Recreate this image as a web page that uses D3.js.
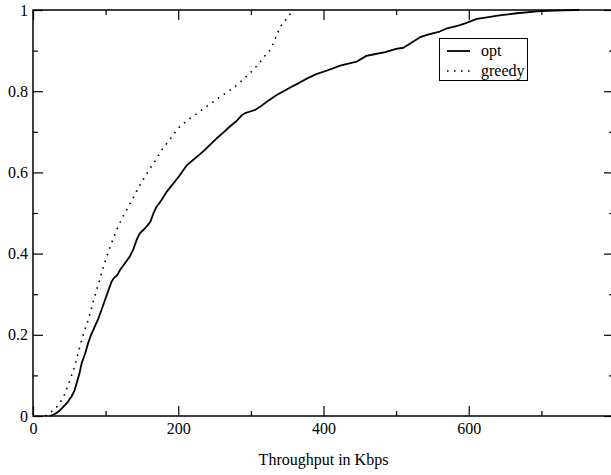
<!DOCTYPE html>
<html>
<head>
<meta charset="utf-8">
<script src="https://cdn.jsdelivr.net/npm/d3@7"></script>
<style>
  html, body { margin: 0; padding: 0; background: #fff; }
  svg { display: block; }
  text { font-family: "Liberation Serif", "Times New Roman", serif; fill: #000; }
</style>
</head>
<body>
<svg id="chart" width="611" height="475"></svg>
<script>
// ---- data ----
const seriesNames = ["opt", "greedy"];
const xTicks = [0, 200, 400, 600];
const xMinorTicks = [100, 300, 500, 700];
const yTicks = [0, 0.2, 0.4, 0.6, 0.8, 1];
const yTickLabels = ["0", "0.2", "0.4", "0.6", "0.8", "1"];
const yMinorTicks = [0.1, 0.3, 0.5, 0.7, 0.9];
const xTitle = "Throughput in Kbps";

const optThroughput = [23,30,36,42,48,53,57,60,64,67,72,76,80,85,90,94,99,104,108,111,116,120,126,133,138,143,147,153,158,162,166,170,177,184,192,200,206,212,220,230,237,245,253,262,271,280,287,292,299,306,315,325,335,345,356,366,377,390,405,423,434,446,459,470,485,500,510,520,533,545,560,570,583,595,611,625,640,666,698,730,752];
const optCdf = [0,0.005,0.012,0.023,0.035,0.048,0.062,0.08,0.105,0.13,0.155,0.18,0.2,0.22,0.24,0.26,0.285,0.31,0.33,0.339,0.347,0.36,0.375,0.392,0.41,0.435,0.45,0.46,0.47,0.48,0.5,0.515,0.532,0.552,0.57,0.588,0.603,0.618,0.63,0.645,0.656,0.67,0.684,0.698,0.713,0.726,0.74,0.746,0.75,0.754,0.765,0.778,0.79,0.8,0.811,0.82,0.831,0.842,0.851,0.863,0.868,0.873,0.887,0.891,0.896,0.904,0.907,0.918,0.933,0.94,0.947,0.955,0.96,0.967,0.978,0.982,0.986,0.992,0.997,0.999,1.0];

const greedyThroughput = [17,23,28,33,37,42,46,51,55,58,62,67,71,76,81,85,91,97,103,109,115,124,134,145,157,168,177,190,202,220,239,257,276,290,303,312,318,326,331,336,341,350,358];
const greedyCdf = [0,0.007,0.015,0.023,0.033,0.046,0.065,0.089,0.11,0.126,0.155,0.187,0.21,0.236,0.269,0.295,0.33,0.368,0.4,0.43,0.458,0.492,0.524,0.562,0.598,0.628,0.655,0.685,0.713,0.738,0.762,0.785,0.808,0.83,0.852,0.87,0.885,0.9,0.918,0.94,0.96,0.98,1.0];

// ---- layout ----
const svg = d3.select("#chart");
const mLeft = 33, mRight = 614, mTop = 10, mBottom = 416;
const x = d3.scaleLinear().domain([0, 800]).range([mLeft, mRight]);
const y = d3.scaleLinear().domain([0, 1]).range([mBottom, mTop]);

function styleAxis(g) {
  g.select(".domain").remove();
  g.selectAll(".tick line").attr("stroke", "#000").attr("stroke-width", 1.2);
  g.selectAll("text").style("font-family", "Liberation Serif, serif").style("font-size", "16px");
}

// bottom axis
svg.append("g").attr("transform", `translate(0,${mBottom})`)
  .call(d3.axisBottom(x).tickValues(xTicks).tickSizeInner(-10).tickSizeOuter(0).tickPadding(7).tickFormat(d3.format("d")))
  .call(styleAxis);
svg.append("g").attr("transform", `translate(0,${mBottom})`)
  .call(d3.axisBottom(x).tickValues(xMinorTicks).tickSizeInner(-5).tickSizeOuter(0).tickFormat(""))
  .call(styleAxis);
// top axis
svg.append("g").attr("transform", `translate(0,${mTop})`)
  .call(d3.axisTop(x).tickValues(xTicks).tickSizeInner(-10).tickSizeOuter(0).tickFormat(""))
  .call(styleAxis);
svg.append("g").attr("transform", `translate(0,${mTop})`)
  .call(d3.axisTop(x).tickValues(xMinorTicks).tickSizeInner(-5).tickSizeOuter(0).tickFormat(""))
  .call(styleAxis);
// left axis
svg.append("g").attr("transform", `translate(${mLeft},0)`)
  .call(d3.axisLeft(y).tickValues(yTicks).tickSizeInner(-10).tickSizeOuter(0).tickPadding(5).tickFormat((d, i) => yTickLabels[i]))
  .call(styleAxis);
svg.append("g").attr("transform", `translate(${mLeft},0)`)
  .call(d3.axisLeft(y).tickValues(yMinorTicks).tickSizeInner(-5).tickSizeOuter(0).tickFormat(""))
  .call(styleAxis);
// right axis
svg.append("g").attr("transform", `translate(${mRight},0)`)
  .call(d3.axisRight(y).tickValues(yTicks).tickSizeInner(-10).tickSizeOuter(0).tickFormat(""))
  .call(styleAxis);
svg.append("g").attr("transform", `translate(${mRight},0)`)
  .call(d3.axisRight(y).tickValues(yMinorTicks).tickSizeInner(-5).tickSizeOuter(0).tickFormat(""))
  .call(styleAxis);

// frame
svg.append("rect").attr("x", mLeft).attr("y", mTop)
  .attr("width", mRight - mLeft).attr("height", mBottom - mTop)
  .attr("fill", "none").attr("stroke", "#000").attr("stroke-width", 1.5);

// lines
const line = d3.line().x(d => x(d[0])).y(d => y(d[1]));
const optData = optThroughput.map((v, i) => [v, optCdf[i]]);
const greedyData = greedyThroughput.map((v, i) => [v, greedyCdf[i]]);

svg.append("path").datum(optData).attr("d", line)
  .attr("fill", "none").attr("stroke", "#000").attr("stroke-width", 1.8).attr("stroke-linejoin", "round");
svg.append("path").datum(greedyData).attr("d", line)
  .attr("fill", "none").attr("stroke", "#000").attr("stroke-width", 1.6).attr("stroke-dasharray", "1.6,5.4");

// x title
svg.append("text").attr("x", (mLeft + mRight) / 2).attr("y", 465)
  .attr("text-anchor", "middle").style("font-size", "16px").text(xTitle);

// legend
const lg = svg.append("g");
lg.append("rect").attr("x", 439.5).attr("y", 38.5).attr("width", 88).attr("height", 42)
  .attr("fill", "#fff").attr("stroke", "#000").attr("stroke-width", 1);
const styles = [{w: 1.8, dash: null}, {w: 1.6, dash: "1.6,5.4"}];
seriesNames.forEach((name, i) => {
  const yy = 51 + i * 20;
  const l = lg.append("line").attr("x1", 447).attr("x2", 470).attr("y1", yy).attr("y2", yy)
    .attr("stroke", "#000").attr("stroke-width", styles[i].w);
  if (styles[i].dash) l.attr("stroke-dasharray", styles[i].dash);
  lg.append("text").attr("x", 481).attr("y", yy + 4.5).style("font-size", "16px").text(name);
});
</script>
</body>
</html>
